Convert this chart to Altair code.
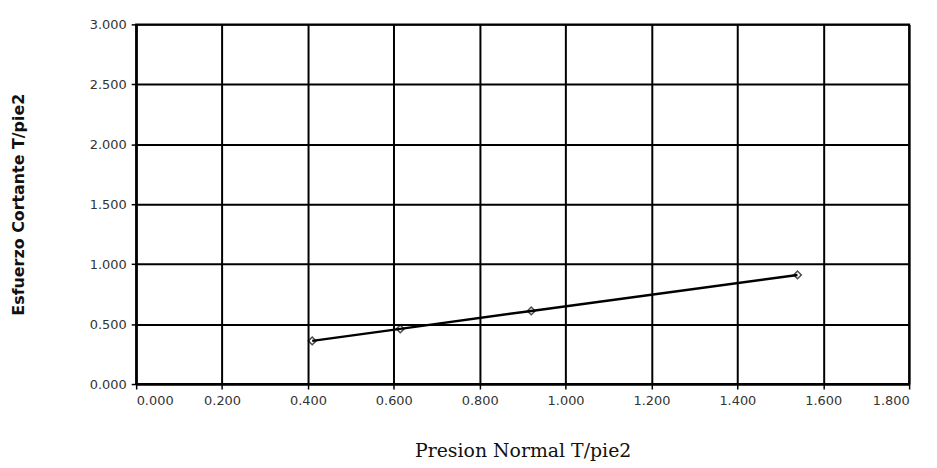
import altair as alt
import pandas as pd

presion = [0.41, 0.615, 0.92, 1.54]
esfuerzo = [0.36, 0.46, 0.61, 0.91]
x_ticks = [0.0, 0.2, 0.4, 0.6, 0.8, 1.0, 1.2, 1.4, 1.6, 1.8]
y_ticks = [0.0, 0.5, 1.0, 1.5, 2.0, 2.5, 3.0]

df = pd.DataFrame({"x": presion, "y": esfuerzo})

x_enc = alt.X("x:Q", scale=alt.Scale(domain=[0, 1.8], nice=False, zero=False),
              axis=alt.Axis(values=x_ticks, format=".3f", title="Presion Normal T/pie2",
                            titleFont="DejaVu Serif", titleFontSize=19, titleFontWeight="normal",
                            titlePadding=34, labelPadding=6, tickSize=5, labelFontSize=13,
                            labelFont="DejaVu Sans", labelColor="#333"))
y_enc = alt.Y("y:Q", scale=alt.Scale(domain=[0, 3.0], nice=False),
              axis=alt.Axis(values=y_ticks, format=".3f", title="Esfuerzo Cortante T/pie2",
                            titleFont="DejaVu Sans", titleFontSize=16, titleFontWeight="bold",
                            titlePadding=63, labelPadding=5, tickSize=5, labelFontSize=13,
                            labelFont="DejaVu Sans", labelColor="#333"))

line = alt.Chart(df).mark_line(color="black", strokeWidth=2.5).encode(x=x_enc, y=y_enc)
pts = alt.Chart(df).mark_point(shape="diamond", filled=False, color="black", size=60,
                               strokeWidth=1.5).encode(x="x:Q", y="y:Q")

chart = (line + pts).properties(
    width=778, height=362,
    autosize=alt.AutoSizeParams(type="none"),
    padding={"left": 129, "top": 15, "right": 20, "bottom": 80},
    background="white",
).configure_axis(
    grid=True, gridColor="black", gridWidth=2, gridOpacity=1,
    domainColor="black", domainWidth=2, tickColor="black", tickWidth=1.5,
    titleColor="#111",
).configure_view(stroke="black", strokeWidth=2)

chart.save("out.html", embed_options={"renderer": "svg", "actions": False})
